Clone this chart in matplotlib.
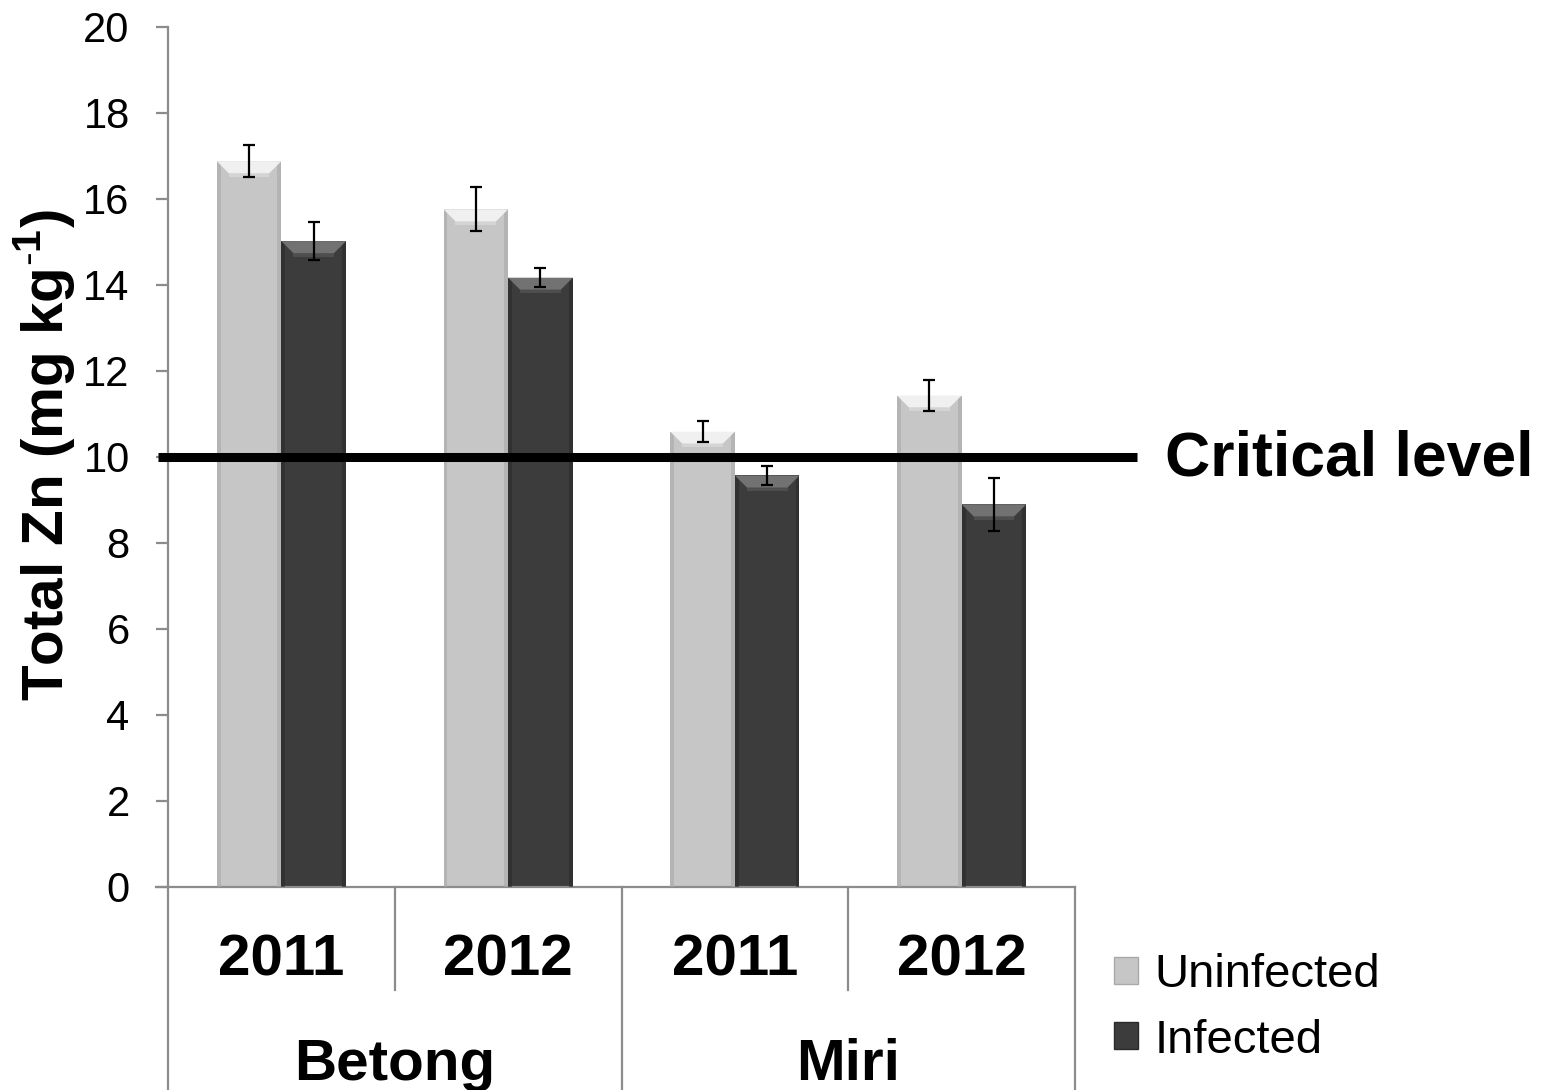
import matplotlib
matplotlib.use("Agg")
import matplotlib.pyplot as plt
from matplotlib.patches import Polygon, Rectangle, Patch
from matplotlib.transforms import blended_transform_factory

plt.rcParams["font.family"] = ["Liberation Sans", "DejaVu Sans"]
plt.rcParams["mathtext.fontset"] = "custom"
plt.rcParams["mathtext.rm"] = "Liberation Sans"
plt.rcParams["mathtext.bf"] = "Liberation Sans:bold"

# --- data -------------------------------------------------------------
sites = ["Betong", "Miri"]
years = ["2011", "2012", "2011", "2012"]
uninfected = [16.88, 15.76, 10.59, 11.43]
uninfected_err = [0.37, 0.51, 0.25, 0.36]
infected = [15.02, 14.17, 9.57, 8.90]
infected_err = [0.44, 0.22, 0.23, 0.62]
critical_level = 10.0
y_ticks = [0, 2, 4, 6, 8, 10, 12, 14, 16, 18, 20]

# --- style ------------------------------------------------------------
light = "#c6c6c6"
light_top = "#f0f0f0"
light_edge = "#a9a9a9"
dark = "#3c3c3c"
dark_top = "#727272"
dark_edge = "#2a2a2a"
axis_grey = "#8c8c8c"
bar_w = 0.285

fig = plt.figure(figsize=(15.51, 10.90), dpi=100)
ax = fig.add_axes([168 / 1551, 1 - 887 / 1090, (1075 - 168) / 1551, (887 - 27) / 1090])
ax.set_xlim(0, 4)
ax.set_ylim(0, 20)

# pixel-per-unit helpers for the bevel decoration
px_x = 1 / 227.0
px_y = 20 / 860.0


def bevel_bar(x_left, value, face, top, edge):
    ax.bar(x_left, value, width=bar_w, align="edge", color=face,
           edgecolor="none", zorder=2)
    bh = 12 * px_y
    bi = 12 * px_x
    # shaded side strips
    ax.add_patch(Rectangle((x_left, 0), 4 * px_x, value, facecolor=edge,
                           edgecolor="none", alpha=0.6, zorder=3))
    ax.add_patch(Rectangle((x_left + bar_w - 4 * px_x, 0), 4 * px_x, value,
                           facecolor=edge, edgecolor="none", alpha=0.6, zorder=3))
    # highlighted top bevel
    ax.add_patch(Polygon([(x_left, value), (x_left + bar_w, value),
                          (x_left + bar_w - bi, value - bh), (x_left + bi, value - bh)],
                         closed=True, facecolor=top, edgecolor="none", zorder=3))
    ax.add_patch(Polygon([(x_left + bi, value - bh), (x_left + bar_w - bi, value - bh),
                          (x_left + bar_w - bi, value - bh * 1.3), (x_left + bi, value - bh * 1.3)],
                         closed=True, facecolor=top, edgecolor="none", alpha=0.35, zorder=3))


centers = [i + 0.5 for i in range(len(years))]
for c, u, ue, v, ve in zip(centers, uninfected, uninfected_err, infected, infected_err):
    bevel_bar(c - bar_w, u, light, light_top, light_edge)
    bevel_bar(c, v, dark, dark_top, dark_edge)
    ax.errorbar(c - bar_w / 2, u, yerr=ue, fmt="none", ecolor="black",
                elinewidth=1.6, capsize=4.5, capthick=1.6, zorder=5)
    ax.errorbar(c + bar_w / 2, v, yerr=ve, fmt="none", ecolor="black",
                elinewidth=1.6, capsize=4.5, capthick=1.6, zorder=5)

# critical level line and label
ax.plot([-10 / 227, (1138 - 168) / 227], [critical_level, critical_level],
        color="black", lw=6.5, solid_capstyle="butt", clip_on=False, zorder=6)
fig.text(1165 / 1551, 1 - 459 / 1090, "Critical level", fontsize=45,
         fontweight="bold", ha="left", va="center")

# axes styling
for s in ["top", "right"]:
    ax.spines[s].set_visible(False)
for s in ["left", "bottom"]:
    ax.spines[s].set_color(axis_grey)
    ax.spines[s].set_linewidth(1.6)
ax.set_yticks(y_ticks)
ax.tick_params(axis="y", length=8.6, width=1.6, color=axis_grey,
               labelsize=30, pad=19)
ax.set_xticks([])

# category table below the axis
trans = blended_transform_factory(ax.transData, ax.transAxes)
y_year_bottom = -(990 - 887) / 860
y_site_bottom = -(1090 - 887) / 860
ax.plot([-12 / 227, 0], [0, 0], transform=trans, color=axis_grey, lw=1.6, clip_on=False)
for x in [1, 3]:
    ax.plot([x, x], [0, y_year_bottom], transform=trans, color=axis_grey,
            lw=1.6, clip_on=False)
for x in [0, 2, 4]:
    ax.plot([x, x], [0, y_site_bottom], transform=trans, color=axis_grey,
            lw=1.6, clip_on=False)
for c, yr in zip(centers, years):
    ax.text(c, -(961 - 887) / 860, yr, transform=trans, fontsize=42,
            fontweight="bold", ha="center", va="center")
for i, site in enumerate(sites):
    ax.text(2 * i + 1, -(1065 - 887) / 860, site, transform=trans, fontsize=42,
            fontweight="bold", ha="center", va="center")

# y-axis title
fig.text(45 / 1551, 1 - 455 / 1090, r"Total Zn (mg kg$^{\mathbf{\text{-}1}}$)",
         fontsize=42, fontweight="bold", rotation=90, ha="center", va="center")

# legend
handles = [Patch(facecolor=light, edgecolor=light_edge, label="Uninfected"),
           Patch(facecolor=dark, edgecolor=dark_edge, label="Infected")]
fig.legend(handles=handles, loc="center left",
           bbox_to_anchor=(1114 / 1551, 1 - 1008 / 1090), frameon=False,
           fontsize=34, handlelength=0.5, handleheight=0.5,
           handletextpad=0.35, labelspacing=0.45, borderpad=0, borderaxespad=0)

fig.savefig("out.png", dpi=100)
